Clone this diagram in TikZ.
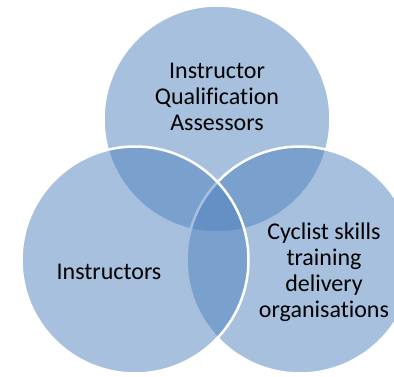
\documentclass[tikz,border=0pt]{standalone}
\usepackage{fontspec}
\setmainfont{Carlito}[Ligatures={NoCommon}]
\definecolor{accent}{HTML}{4F81BD}
\begin{document}
\begin{tikzpicture}[x=1pt,y=-1pt,
  venn/.style={circle,minimum size=227pt,inner sep=0pt,fill=accent,fill opacity=0.5,draw=white,line width=2.5pt},
  lbl/.style={align=center,font=\fontsize{24}{26}\selectfont,text=black,inner sep=0pt}]
\useasboundingbox (0,0) rectangle (394,376);
\node[venn] (top) at (217,119) {};
\node[venn] (right) at (300,260) {};
\node[venn] (left) at (135,260) {};
\node[lbl] (toptext) at (217,97) {Instructor\\Qualification\\Assessors};
\node[lbl] (lefttext) at (109,272) {Instructors};
\node[lbl] (righttext) at (324,272) {Cyclist skills\\training\\delivery\\organisations};
\end{tikzpicture}
\end{document}
